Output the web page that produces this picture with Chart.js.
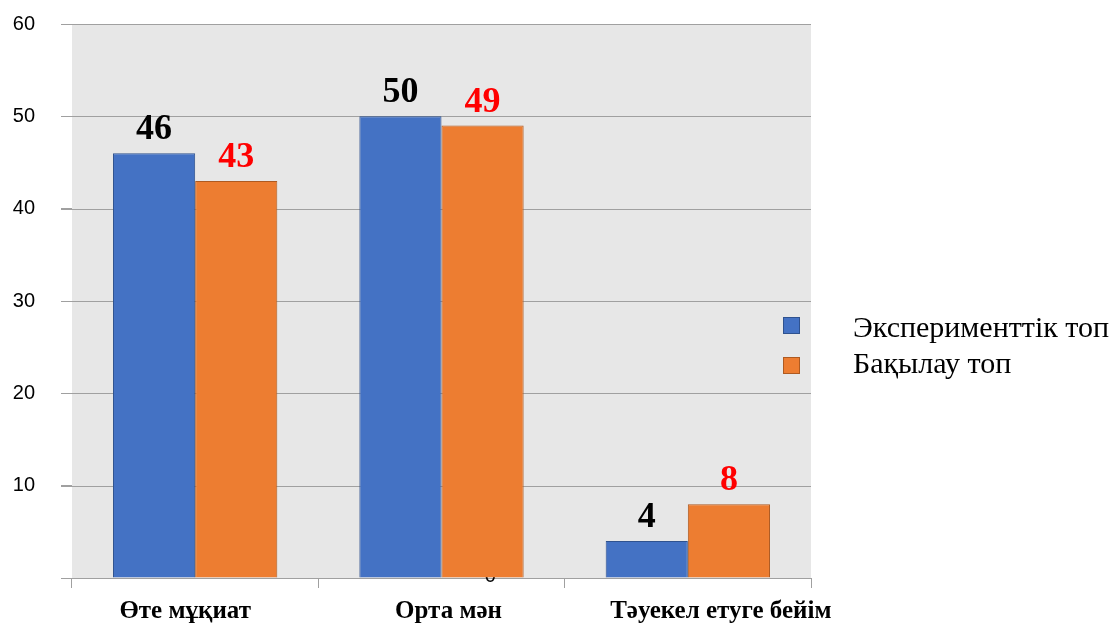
<!DOCTYPE html>
<html>
<head>
<meta charset="utf-8">
<script src="https://cdn.jsdelivr.net/npm/chart.js@4/dist/chart.umd.min.js"></script>
<style>
  html, body { margin: 0; padding: 0; background: #fff; }
  #wrap { width: 1119px; height: 624px; position: relative; }
</style>
</head>
<body>
<div id="wrap"><canvas id="myChart"></canvas></div>
<script>
const categories = ['Өте мұқиат', 'Орта мән', 'Тәуекел етуге бейім'];
const seriesNames = ['Эксперименттік топ', 'Бақылау топ'];
const experimentValues = [46, 50, 4];
const controlValues = [43, 49, 8];
const yTicks = [0, 10, 20, 30, 40, 50, 60];

const labelColors = ['#000000', '#ff0000'];
// category labels are not quite centred under their bars in the original
const catLabelShift = [-10, 7, 33];

// grey plot background + the stray "0" that sits behind the middle bars
const plotBg = {
  id: 'plotBg',
  beforeDatasetsDraw(chart) {
    const { ctx, chartArea: a, scales } = chart;
    ctx.save();
    ctx.fillStyle = '#e7e7e7';
    ctx.fillRect(a.left, a.top, a.right - a.left, a.bottom - a.top);
    // redraw horizontal grid on top of the fill
    ctx.strokeStyle = '#a0a0a0';
    ctx.lineWidth = 1;
    yTicks.forEach(v => {
      const y = Math.round(scales.y.getPixelForValue(v)) + 0.5;
      ctx.beginPath();
      ctx.moveTo(a.left - 11, y);
      ctx.lineTo(a.right, y);
      ctx.stroke();
    });
    ctx.fillStyle = '#000';
    ctx.font = '20px "Liberation Sans"';
    ctx.textAlign = 'center';
    ctx.textBaseline = 'middle';
    ctx.fillText('0', a.left + (a.right - a.left) * 0.566, scales.y.getPixelForValue(0) - 2);
    ctx.restore();
  }
};

// value labels above each bar, category names under the axis
const valueLabels = {
  id: 'valueLabels',
  afterDatasetsDraw(chart) {
    const { ctx, scales } = chart;
    ctx.save();
    ctx.font = 'bold 36px "Liberation Serif"';
    ctx.textAlign = 'center';
    ctx.textBaseline = 'alphabetic';
    chart.data.datasets.forEach((ds, i) => {
      ctx.fillStyle = labelColors[i];
      chart.getDatasetMeta(i).data.forEach((bar, j) => {
        ctx.fillText(ds.data[j], bar.x, bar.y - 14);
      });
    });
    ctx.fillStyle = '#000';
    ctx.font = 'bold 25px "Liberation Serif"';
    categories.forEach((c, i) => {
      ctx.fillText(c, scales.x.getPixelForValue(i) + catLabelShift[i], 618);
    });
    ctx.restore();
  }
};

// legend that overlaps the right edge of the plot
const sideLegend = {
  id: 'sideLegend',
  afterDraw(chart) {
    const { ctx } = chart;
    ctx.save();
    ctx.font = '30px "Liberation Serif"';
    ctx.textBaseline = 'alphabetic';
    chart.data.datasets.forEach((ds, i) => {
      const y = 325 + i * 40;
      ctx.fillStyle = ds.backgroundColor;
      ctx.fillRect(783, y - 8, 17, 17);
      ctx.strokeStyle = ds.borderColor;
      ctx.lineWidth = 1;
      ctx.strokeRect(783.5, y - 7.5, 16, 16);
      ctx.fillStyle = '#000';
      ctx.fillText(seriesNames[i], 853, y + 12 - i * 4);
    });
    ctx.restore();
  }
};

const ctx = document.getElementById('myChart');

new Chart(ctx, {
  type: 'bar',
  data: {
    labels: categories,
    datasets: [
      {
        label: seriesNames[0],
        data: experimentValues,
        backgroundColor: '#4472c4',
        borderColor: '#2f528f',
        borderWidth: 1
      },
      {
        label: seriesNames[1],
        data: controlValues,
        backgroundColor: '#ed7d31',
        borderColor: '#ae5a21',
        borderWidth: 1
      }
    ]
  },
  options: {
    responsive: true,
    maintainAspectRatio: false,
    animation: false,
    layout: { padding: { top: 24, right: 308, left: 0, bottom: 0 } },
    datasets: {
      bar: { categoryPercentage: 0.667, barPercentage: 1 }
    },
    plugins: {
      legend: { display: false },
      tooltip: { enabled: false }
    },
    scales: {
      x: {
        grid: {
          offset: true,
          drawOnChartArea: false,
          drawTicks: true,
          tickLength: 10,
          color: '#a0a0a0'
        },
        border: { color: '#a0a0a0' },
        ticks: { display: false },
        afterFit(scale) {
          scale.height = 46;
          scale.paddingLeft = 0;
          scale.paddingRight = 0;
        }
      },
      y: {
        min: 0,
        max: 60,
        afterBuildTicks(scale) {
          scale.ticks = yTicks.map(v => ({ value: v }));
        },
        grid: {
          drawOnChartArea: true,
          drawTicks: true,
          tickLength: 11,
          color: '#a0a0a0'
        },
        border: { color: '#a0a0a0' },
        ticks: {
          color: '#000',
          padding: 26,
          font: { family: 'Liberation Sans', size: 20 },
          callback: v => (v === 0 ? '' : v)
        },
        afterFit(scale) {
          scale.width = 72;
          scale.paddingTop = 0;
          scale.paddingBottom = 0;
        }
      }
    }
  },
  plugins: [plotBg, valueLabels, sideLegend]
});
</script>
</body>
</html>
